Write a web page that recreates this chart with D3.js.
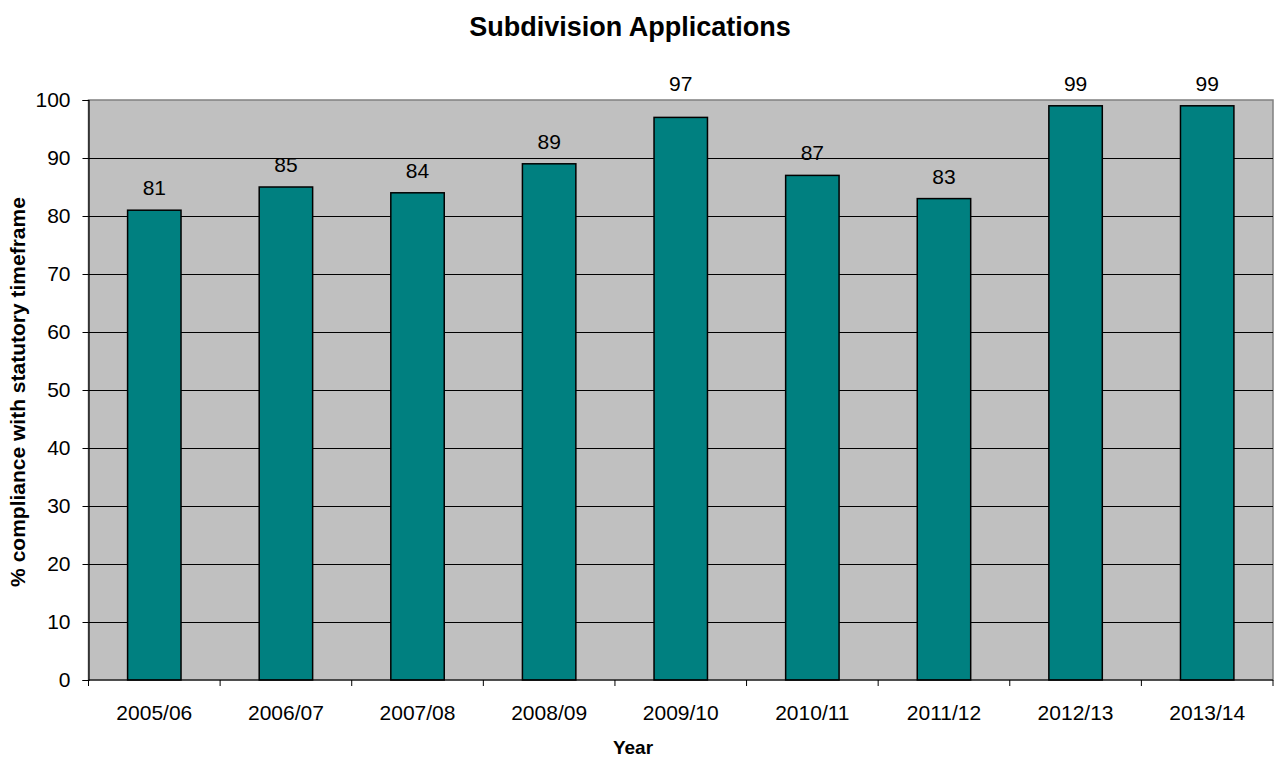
<!DOCTYPE html>
<html>
<head>
<meta charset="utf-8">
<script src="https://d3js.org/d3.v7.min.js"></script>
<style>
  body { margin: 0; background: #fff; }
  svg { display: block; font-family: Arial, "Liberation Sans", sans-serif; }
</style>
</head>
<body>
<svg id="chart" width="1276" height="758"></svg>
<script>
// Chart data
const years = ['2005/06', '2006/07', '2007/08', '2008/09', '2009/10', '2010/11', '2011/12', '2012/13', '2013/14'];
const compliance = [81, 85, 84, 89, 97, 87, 83, 99, 99];
const yTicks = [0, 10, 20, 30, 40, 50, 60, 70, 80, 90, 100];

const svg = d3.select('#chart');
const margin = { top: 100, right: 3, bottom: 78, left: 88.5 };
const width = 1276 - margin.left - margin.right;
const height = 758 - margin.top - margin.bottom;

const g = svg.append('g').attr('transform', `translate(${margin.left},${margin.top})`);

const x = d3.scaleBand().domain(years).range([0, width]).paddingInner(0.594).paddingOuter(0.297);
const y = d3.scaleLinear().domain([0, 100]).range([height, 0]);

// Plot background
g.append('rect')
    .attr('width', width)
    .attr('height', height)
    .attr('fill', '#c0c0c0')
    .attr('stroke', '#808080')
    .attr('stroke-width', 1.5);

// Gridlines
g.selectAll('.grid')
    .data(yTicks.slice(1, -1))
    .enter()
    .append('line')
    .attr('x1', 0)
    .attr('x2', width)
    .attr('y1', d => Math.round(y(d)) + 0.5)
    .attr('y2', d => Math.round(y(d)) + 0.5)
    .attr('stroke', '#000')
    .attr('stroke-width', 1);

// Bars
g.selectAll('.bar')
    .data(years)
    .enter()
    .append('rect')
    .attr('x', d => x(d))
    .attr('y', (d, i) => y(compliance[i]))
    .attr('width', x.bandwidth())
    .attr('height', (d, i) => height - y(compliance[i]))
    .attr('fill', '#008080')
    .attr('stroke', '#000')
    .attr('stroke-width', 1.5);

// Value labels: sit 15px above the bar, but never straddle the plot's top edge
function labelY(v) {
    const base = y(v) - 15;
    if (base > 0 && base - 16 < 0) return -9.5;
    return base;
}
g.selectAll('.val')
    .data(years)
    .enter()
    .append('text')
    .attr('x', d => x(d) + x.bandwidth() / 2)
    .attr('y', (d, i) => labelY(compliance[i]))
    .attr('text-anchor', 'middle')
    .style('font-size', '21px')
    .text((d, i) => compliance[i]);

// Y axis
const yAxis = g.append('g')
    .call(d3.axisLeft(y).tickValues(yTicks).tickSize(6).tickPadding(12));
yAxis.select('.domain').attr('stroke', '#000').attr('stroke-width', 1.2);
yAxis.selectAll('.tick line').attr('stroke', '#000');
yAxis.selectAll('text').style('font-size', '21px').attr('fill', '#000');

// X axis with ticks at category boundaries
const bw = width / years.length;
const xAxisG = g.append('g').attr('transform', `translate(0,${height})`);
xAxisG.append('line')
    .attr('x1', 0).attr('x2', width)
    .attr('stroke', '#000').attr('stroke-width', 1.2);
xAxisG.selectAll('.xt')
    .data(d3.range(years.length + 1))
    .enter()
    .append('line')
    .attr('x1', d => d * bw)
    .attr('x2', d => d * bw)
    .attr('y1', 0)
    .attr('y2', 6)
    .attr('stroke', '#000');
xAxisG.selectAll('.xl')
    .data(years)
    .enter()
    .append('text')
    .attr('x', d => x(d) + x.bandwidth() / 2)
    .attr('y', 40)
    .attr('text-anchor', 'middle')
    .style('font-size', '21px')
    .text(d => d);

// Titles
svg.append('text')
    .attr('x', 630)
    .attr('y', 36)
    .attr('text-anchor', 'middle')
    .style('font-size', '27px')
    .style('font-weight', 'bold')
    .text('Subdivision Applications');

svg.append('text')
    .attr('x', 633)
    .attr('y', 754)
    .attr('text-anchor', 'middle')
    .style('font-size', '19px')
    .style('font-weight', 'bold')
    .text('Year');

svg.append('text')
    .attr('transform', `translate(25,392) rotate(-90)`)
    .attr('text-anchor', 'middle')
    .style('font-size', '21px')
    .style('font-weight', 'bold')
    .text('% compliance with statutory timeframe');
</script>
</body>
</html>
